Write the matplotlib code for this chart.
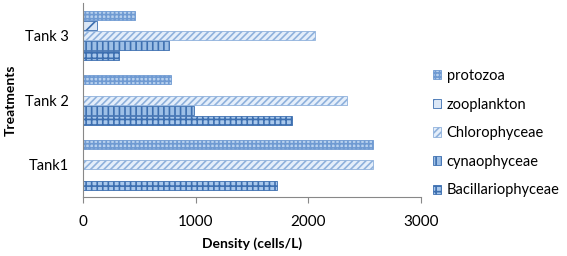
import numpy as np
import matplotlib.pyplot as plt

plt.rcParams['font.family'] = ['Lato', 'DejaVu Sans']
plt.rcParams['hatch.linewidth'] = 1.2

tanks = ['Tank1', 'Tank 2', 'Tank 3']
groups = ['Bacillariophyceae', 'cynaophyceae', 'Chlorophyceae', 'zooplankton', 'protozoa']
bacillariophyceae = [1720, 1850, 320]
cynaophyceae = [0, 990, 765]
chlorophyceae = [2575, 2340, 2060]
zooplankton = [0, 0, 130]
protozoa = [2575, 780, 460]
values = [bacillariophyceae, cynaophyceae, chlorophyceae, zooplankton, protozoa]

hatches = ['+++', '|||', '/////', '//', '++++']
faces = ['#a9c8ec', '#9dbfe6', '#e4eefa', '#dbe7f6', '#b8d1ee']
edges = ['#3d6fb0', '#3d6fb0', '#8fb1dc', '#3d6fb0', '#6f9ad2']

fig = plt.figure(figsize=(5.67, 2.56), dpi=100)
ax = fig.add_axes([0.146, 0.230, 0.597, 0.758])

y = np.arange(len(tanks))
slot = 0.157
h = slot * 0.88
for i, (name, vals) in enumerate(zip(groups, values)):
    pos = y + (i - 2) * slot
    ax.barh(pos, vals, height=h, color=faces[i], edgecolor=edges[i],
            hatch=hatches[i], linewidth=0.6, label=name)

ax.set_xlim(0, 3000)
ax.set_ylim(-0.5, 2.5)
ax.set_xticks([0, 1000, 2000, 3000])
ax.set_yticks(y)
ax.set_yticklabels(tanks, fontsize=10.5)
ax.tick_params(axis='x', labelsize=11, length=4, color='#888888', pad=9)
ax.tick_params(axis='y', length=0, pad=10)
for s in ['top', 'right']:
    ax.spines[s].set_visible(False)
for s in ['left', 'bottom']:
    ax.spines[s].set_color('#888888')
ax.set_xlabel('Density (cells/L)', fontsize=10, fontweight='bold', labelpad=6)
ax.set_ylabel('Treatments', fontsize=10, fontweight='bold')
ax.yaxis.set_label_coords(-0.195, 0.5)

handles, labels = ax.get_legend_handles_labels()
fig.legend(handles[::-1], labels[::-1], loc='center left', bbox_to_anchor=(0.74, 0.48),
           frameon=False, fontsize=10.5, handlelength=0.6, handleheight=0.6,
           handletextpad=0.35, labelspacing=1.0)

fig.savefig('out.png', dpi=100)
